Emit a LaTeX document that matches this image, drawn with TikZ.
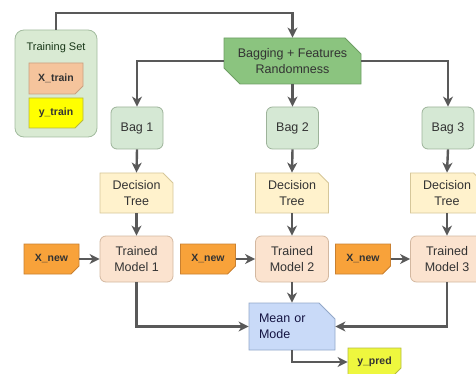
\documentclass[tikz,border=0pt]{standalone}
\usepackage{fontspec}
\setmainfont{Liberation Sans}
\usetikzlibrary{shapes.misc,arrows.meta}
\definecolor{linec}{HTML}{595959}
\definecolor{txt}{HTML}{333333}
\definecolor{tsfill}{HTML}{D9EAD3}\definecolor{tsdraw}{HTML}{A3BC9F}
\definecolor{xtfill}{HTML}{F5C49C}\definecolor{xtdraw}{HTML}{C9A080}
\definecolor{ytfill}{HTML}{FFFF00}\definecolor{ytdraw}{HTML}{B8B840}
\definecolor{bgfill}{HTML}{8BC47F}\definecolor{bgdraw}{HTML}{6E9E64}
\definecolor{bafill}{HTML}{D5E8D4}\definecolor{badraw}{HTML}{9DB39A}
\definecolor{dtfill}{HTML}{FFF2CC}\definecolor{dtdraw}{HTML}{D6C79A}
\definecolor{tmfill}{HTML}{FBE3CF}\definecolor{tmdraw}{HTML}{D3B8A0}
\definecolor{xnfill}{HTML}{F8A23A}\definecolor{xndraw}{HTML}{C98030}
\definecolor{mmfill}{HTML}{C9DAF8}\definecolor{mmdraw}{HTML}{93A8C8}
\definecolor{ypfill}{HTML}{EEF73E}\definecolor{ypdraw}{HTML}{B5BC40}
\begin{document}
\begin{tikzpicture}[x=1pt,y=-1pt,
  box/.style={line width=0.8pt, text=txt, align=center, inner sep=0pt,
    font=\fontsize{12.5}{15.5}\selectfont},
  rbox/.style={box, rectangle, rounded corners=6pt},
  cbox/.style={box, chamfered rectangle, chamfered rectangle xsep=#1, chamfered rectangle ysep=#1},
  small/.style={font=\fontsize{10.5}{12}\selectfont\bfseries},
  arr/.style={draw=linec, line width=2.4pt, -{Stealth[length=10pt,width=10pt,inset=3pt]}},
  ln/.style={draw=linec, line width=2.4pt}]
\useasboundingbox (0,0) rectangle (476,374);
\clip (0,0) rectangle (476,374);
% training set
\node[rbox, rounded corners=9pt, fill=tsfill, draw=tsdraw, minimum width=82pt, minimum height=107pt] (train) at (56,83.5) {};
\node[box, font=\fontsize{11}{13}\selectfont, text=txt!80!green!60!black] (tstext) at (56,48) {Training Set};
\node[cbox=4pt, chamfered rectangle corners=south east, fill=xtfill, draw=xtdraw, minimum width=54pt, minimum height=31pt, small] (xtrain) at (56,78.5) {X\_train};
\node[cbox=4pt, chamfered rectangle corners=south east, fill=ytfill, draw=ytdraw, minimum width=54pt, minimum height=30pt, small] (ytrain) at (56,113) {y\_train};
% bagging
\node[cbox=8pt, chamfered rectangle corners={north east,south west}, fill=bgfill, draw=bgdraw, minimum width=137pt, minimum height=46pt] (bag) at (292.5,61) {Bagging + Features\\Randomness};
% columns
\foreach \i/\x in {1/137,2/292.5,3/448}{
  \node[rbox, fill=bafill, draw=badraw, minimum width=52pt, minimum height=42pt] (bag\i) at (\x,128) {Bag \i};
}
\foreach \i/\x in {1/136.5,2/292,3/447}{
  \node[cbox=5pt, chamfered rectangle corners=north east, fill=dtfill, draw=dtdraw, minimum width=73pt, minimum height=40pt] (dt\i) at (\x,193) {Decision\\Tree};
  \node[rbox, fill=tmfill, draw=tmdraw, minimum width=73pt, minimum height=46pt] (tm\i) at (\x,259) {Trained\\Model \i};
}
\foreach \i/\x in {1/51.5,2/208,3/363}{
  \node[cbox=4pt, chamfered rectangle corners=south east, fill=xnfill, draw=xndraw, minimum width=55pt, minimum height=30pt, small] (xn\i) at (\x,259) {X\_new};
}
\node[cbox=8pt, chamfered rectangle corners=north east, fill=mmfill, draw=mmdraw, minimum width=86pt, minimum height=47pt, align=left, text width=66pt, text=txt!70!blue!60!black] (mean) at (292,326.5) {Mean or\\Mode};
\node[cbox=4pt, chamfered rectangle corners=south east, fill=ypfill, draw=ypdraw, minimum width=53pt, minimum height=28pt, small] (ypred) at (374.5,362) {y\_pred};
% connectors
\coordinate (top) at (0,13);
\draw[arr] (train.north) -- (train.north |- top) -- (bag.north |- top) -- (bag.north);
\draw[arr] (bag.west) -| (bag1.north);
\draw[arr] (bag.east) -| (bag3.north);
\draw[arr] (bag.south) -- (bag2.north);
\foreach \i in {1,2,3}{
  \draw[arr] (bag\i.south) -- (dt\i.north);
  \draw[arr] (dt\i.south) -- (tm\i.north);
  \draw[arr] (xn\i.east) -- (tm\i.west);
}
\draw[arr] (tm1.south) |- (mean.west);
\draw[arr] (tm3.south) |- (mean.east);
\draw[arr] (tm2.south) -- (mean.north);
\draw[arr] (mean.south) |- (ypred.west);
\end{tikzpicture}
\end{document}
